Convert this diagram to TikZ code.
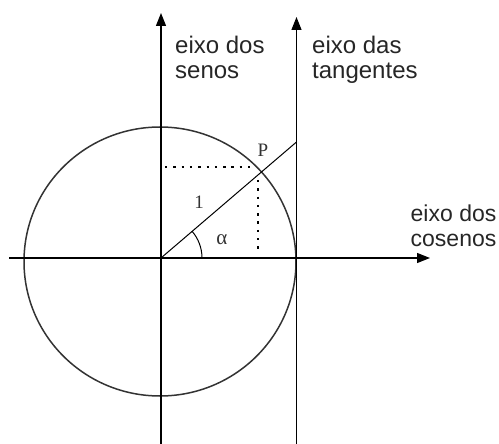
\documentclass[tikz,border=0pt]{standalone}
\usepackage{fontspec}
\setmainfont{Liberation Sans}
\newfontfamily\serifl{Liberation Serif}
\usetikzlibrary{arrows.meta}
\begin{document}
\begin{tikzpicture}[x=1pt,y=-1pt,
  axis/.style={line width=1.3pt, -{Triangle[length=13pt,width=10pt]}},
  lab/.style={font=\fontsize{24}{25}\selectfont, inner sep=0pt, anchor=base west, text=black!85},
  labc/.style={lab, font=\fontsize{23}{24}\selectfont},
  ser/.style={font=\serifl\fontsize{19}{19}\selectfont, inner sep=0pt, text=black!80},
  dots/.style={line width=2.4pt, dash pattern=on 2.4pt off 5.9pt}]
\useasboundingbox (0,0) rectangle (499,444);
% key points
\coordinate (O) at (161,258);
\coordinate (xs) at (9,258);
\coordinate (xe) at (430,258);
\coordinate (ss) at (161,444);
\coordinate (se) at (161,13);
\coordinate (ts) at (296.5,444);
\coordinate (te) at (296.5,17);
\coordinate (T) at (296.5,142);
\coordinate (dh1) at (165,167);
\coordinate (dh2) at (250,167);
\coordinate (dv1) at (258,180);
\coordinate (dv2) at (258,253);
% circle
\draw[line width=1.5pt, black!80] (160,261.5) ellipse [x radius=136, y radius=134.5];
% axes
\draw[axis] (xs) -- (xe);
\draw[axis] (ss) -- (se);
\draw[axis] (ts) -- (te);
% radius line to tangent axis
\draw[line width=1pt] (O) -- (T);
% projections
\draw[dots] (dh1) -- (dh2);
\draw[dots] (dv1) -- (dv2);
% angle arc
\draw[line width=1pt] (O) ++(41,0) arc[start angle=0, end angle=-40.7, radius=41];
% labels
\node[ser] (Plab) at (263,150) {P};
\node[ser] (one) at (199,202) {1};
\node[ser, font=\serifl\fontsize{21}{21}\selectfont] (alpha) at (222,240) {α};
\node[lab] (s1) at (175,54) {eixo dos};
\node[lab] (s2) at (175,79) {senos};
\node[lab] (t1) at (312,54) {eixo das};
\node[lab] (t2) at (312,79) {tangentes};
\node[labc] (c1) at (410.5,221.7) {eixo dos};
\node[labc] (c2) at (410.5,247) {cosenos};
\end{tikzpicture}
\end{document}
